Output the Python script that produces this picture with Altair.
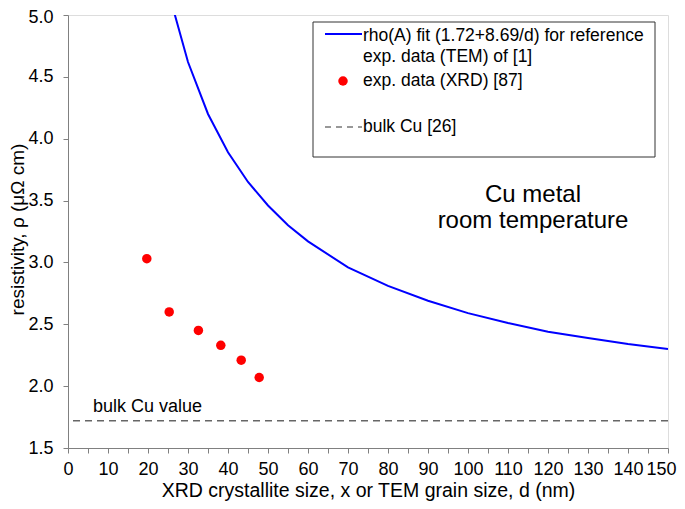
import altair as alt
import pandas as pd

# ---- data ----
fit_d = [25, 30, 35, 40, 45, 50, 55, 60, 70, 80, 90, 100, 110, 120, 130, 140, 150]
fit_rho = [5.20, 4.62, 4.20, 3.89, 3.65, 3.46, 3.30, 3.17, 2.96, 2.81, 2.69,
           2.59, 2.51, 2.44, 2.39, 2.34, 2.30]
xrd_x = [19.7, 25.3, 32.6, 38.2, 43.3, 47.8]
xrd_rho = [3.03, 2.60, 2.45, 2.33, 2.21, 2.07]
bulk_value = [1.72]
legend_text = ["rho(A) fit (1.72+8.69/d) for reference",
               "exp. data (TEM) of [1]",
               "exp. data (XRD) [87]",
               "bulk Cu [26]"]
annotation_text = ["Cu metal", "room temperature"]
bulk_label = ["bulk Cu value"]
x_ticks = list(range(0, 151, 5))
y_ticks = [1.5, 2.0, 2.5, 3.0, 3.5, 4.0, 4.5, 5.0]
x_title = "XRD crystallite size, x or TEM grain size, d  (nm)"
y_title = "resistivity, ρ  (μΩ cm)"

FONT = "Liberation Sans"
GRAY = "#808080"

fit_df = pd.DataFrame({"d": fit_d, "rho": fit_rho})
xrd_df = pd.DataFrame({"d": xrd_x, "rho": xrd_rho})
bulk_df = pd.DataFrame({"rho": bulk_value})
one = pd.DataFrame({"k": [0]})

xscale = alt.Scale(domain=[0, 150], nice=False, zero=False)
yscale = alt.Scale(domain=[1.5, 5.0], nice=False, zero=False)

x_axis = alt.Axis(values=x_ticks, labelExpr="datum.value % 10 == 0 ? datum.label : ''",
                  grid=False, tickSize=5, tickColor=GRAY, domainColor=GRAY,
                  labelFontSize=18, labelFont=FONT, labelColor="black", labelPadding=7,
                  labelFlush=False, labelOverlap=False,
                  labelOffset={"condition": {"test": "datum.value == 150", "value": -7},
                               "value": 0},
                  title=x_title, titleFont=FONT, titleFontSize=19.5, titleFontWeight="normal",
                  titleColor="black", titleX=300, titleY=42, titleAlign="center",
                  titleBaseline="middle")
y_axis = alt.Axis(values=y_ticks, format=".1f", grid=False, tickSize=5, tickColor=GRAY,
                  domainColor=GRAY, labelFontSize=18, labelFont=FONT, labelColor="black",
                  labelPadding=10, labelFlush=False, labelOverlap=False,
                  labelOffset={"condition": {"test": "datum.value == 5", "value": 2},
                               "value": 0},
                  title=y_title, titleFont=FONT, titleFontSize=19, titleFontWeight="normal",
                  titleColor="black", titleX=-50.5, titleY=214, titleAngle=270,
                  titleAlign="center", titleBaseline="middle")

X = alt.X("d:Q", scale=xscale, axis=x_axis)
Y = alt.Y("rho:Q", scale=yscale, axis=y_axis)

bulk_line = alt.Chart(bulk_df).mark_rule(color="#666666", strokeWidth=1.5,
                                         strokeDash=[7, 5]).encode(y=Y)

fit_line = alt.Chart(fit_df).mark_line(color="#0000FF", strokeWidth=2, clip=True).encode(
    x=X, y=Y)

xrd_pts = alt.Chart(xrd_df).mark_point(filled=True, color="#FF0000", size=90,
                                       opacity=1).encode(x=X, y=Y)

# annotations (pixel positions in the plot area)
txt = dict(font=FONT, color="black", baseline="alphabetic")
ann1 = alt.Chart(one).mark_text(fontSize=24, align="center", **txt).encode(
    x=alt.value(465), y=alt.value(187), text=alt.value(annotation_text[0]))
ann2 = alt.Chart(one).mark_text(fontSize=24, align="center", **txt).encode(
    x=alt.value(465), y=alt.value(213), text=alt.value(annotation_text[1]))
bulk_txt = alt.Chart(one).mark_text(fontSize=18, align="left", **txt).encode(
    x=alt.value(25), y=alt.value(397), text=alt.value(bulk_label[0]))

# legend box
leg_box = alt.Chart(one).mark_rect(fill="white", stroke="#333333", strokeWidth=1).encode(
    x=alt.value(245), x2=alt.value(587), y=alt.value(7), y2=alt.value(142))
leg_line = alt.Chart(one).mark_rule(color="#0000FF", strokeWidth=2).encode(
    x=alt.value(257), x2=alt.value(294), y=alt.value(19))
leg_dot = alt.Chart(one).mark_point(filled=True, color="#FF0000", size=90, opacity=1).encode(
    x=alt.value(275), y=alt.value(66))
leg_dash = alt.Chart(one).mark_rule(color="#333333", strokeWidth=1.2,
                                    strokeDash=[6, 5]).encode(
    x=alt.value(257), x2=alt.value(294), y=alt.value(112))
leg_t = [alt.Chart(one).mark_text(fontSize=17.5, align="left", **txt).encode(
    x=alt.value(295), y=alt.value(yy), text=alt.value(t))
    for t, yy in zip(legend_text, [25.5, 47, 71, 117])]

chart = alt.layer(bulk_line, fit_line, xrd_pts, ann1, ann2, bulk_txt,
                  leg_box, leg_line, leg_dot, leg_dash, *leg_t).properties(
    width=600, height=433,
    autosize=alt.AutoSizeParams(type="none"),
    padding={"left": 60, "top": 7, "right": 9, "bottom": 53},
).configure_view(stroke=GRAY, strokeWidth=1).configure(background="white")

chart.save("out.html", embed_options={"renderer": "svg", "actions": False})
